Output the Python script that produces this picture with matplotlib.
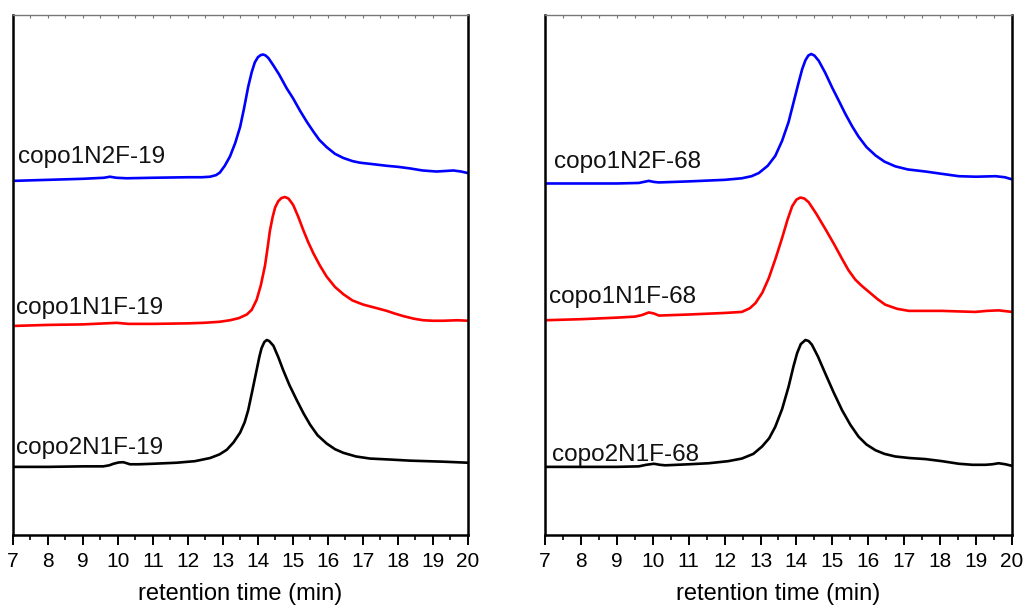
import matplotlib
matplotlib.use("Agg")
import matplotlib.pyplot as plt
from matplotlib.ticker import MultipleLocator

plt.rcParams['font.family'] = ['Liberation Sans', 'DejaVu Sans']

# ---- GPC traces (retention time in min, stacked detector signal in a.u.) ----
t_1N2F_19 = [7.0, 8.0, 9.0, 9.6, 9.77, 9.95, 10.25, 11.0, 12.0, 12.4, 12.63, 12.8, 12.91, 13.05,
             13.2, 13.35, 13.49, 13.6, 13.72, 13.82, 13.91, 14.0, 14.08, 14.15, 14.22, 14.3, 14.44,
             14.6, 14.82, 15.0, 15.2, 15.4, 15.58, 15.75, 15.96, 16.2, 16.44, 16.7, 16.91, 17.3,
             17.68, 18.0, 18.34, 18.7, 19.1, 19.35, 19.58, 19.8, 20.0]
s_1N2F_19 = [68.1, 68.3, 68.5, 68.7, 68.9, 68.7, 68.6, 68.7, 68.8, 68.8, 68.9, 69.2, 69.7, 71.0,
             72.8, 75.4, 78.5, 82.0, 86.2, 89.0, 90.9, 91.9, 92.3, 92.4, 92.2, 91.7, 90.3,
             88.6, 85.9, 84.0, 81.6, 79.4, 77.6, 76.0, 74.6, 73.3, 72.5, 71.9, 71.6, 71.3,
             71.0, 70.8, 70.5, 70.1, 69.9, 70.0, 70.1, 69.9, 69.6]

t_1N1F_19 = [7.0, 8.0, 9.0, 9.96, 10.3, 11.0, 12.0, 12.44, 12.9, 13.2, 13.45, 13.68, 13.82, 13.96,
             14.08, 14.2, 14.28, 14.34, 14.42, 14.49, 14.58, 14.67, 14.77, 14.87, 14.95, 15.01,
             15.15, 15.29, 15.43, 15.58, 15.77, 15.96, 16.2, 16.44, 16.7, 17.01, 17.35, 17.68,
             17.9, 18.15, 18.45, 18.72, 19.0, 19.29, 19.7, 20.0]
s_1N1F_19 = [40.2, 40.4, 40.5, 40.8, 40.6, 40.6, 40.7, 40.8, 41.0, 41.3, 41.7, 42.4, 43.3, 45.2,
             48.0, 51.8, 55.5, 58.5, 61.2, 63.0, 64.2, 64.8, 65.0, 64.7, 64.0, 63.4,
             61.2, 58.7, 56.4, 54.2, 51.8, 49.7, 47.7, 46.3, 45.1, 44.3, 43.7, 43.1,
             42.6, 42.1, 41.6, 41.3, 41.2, 41.2, 41.3, 41.2]

t_2N1F_19 = [7.0, 8.0, 9.0, 9.58, 9.75, 9.87, 10.02, 10.15, 10.25, 10.34, 10.6, 11.0, 11.68,
             12.2, 12.63, 12.9, 13.11, 13.3, 13.49, 13.62, 13.72, 13.84, 13.96, 14.04, 14.1,
             14.18, 14.25, 14.32, 14.44, 14.58, 14.72, 14.9, 15.11, 15.3, 15.49, 15.7, 15.96,
             16.2, 16.44, 16.8, 17.2, 17.8, 18.34, 19.29, 20.0]
s_2N1F_19 = [13.1, 13.1, 13.2, 13.2, 13.4, 13.7, 13.95, 14.0, 13.8, 13.6, 13.6, 13.7, 13.9,
             14.2, 14.8, 15.5, 16.4, 17.8, 19.7, 21.7, 24.0, 27.8, 31.7, 34.3, 35.9,
             37.1, 37.5, 37.3, 36.4, 34.2, 31.7, 28.8, 25.9, 23.4, 21.2, 19.2, 17.6,
             16.5, 15.8, 15.1, 14.7, 14.5, 14.3, 14.1, 13.9]

t_1N2F_68 = [7.0, 8.0, 9.0, 9.61, 9.75, 9.89, 10.03, 10.17, 11.0, 12.0, 12.48, 12.75, 12.95,
             13.2, 13.41, 13.6, 13.78, 13.92, 14.06, 14.16, 14.25, 14.33, 14.41, 14.5, 14.62,
             14.8, 14.99, 15.18, 15.36, 15.55, 15.73, 15.95, 16.2, 16.45, 16.75, 17.1, 17.59,
             18.0, 18.52, 19.0, 19.54, 19.8, 20.0]
s_1N2F_68 = [67.6, 67.6, 67.6, 67.7, 67.9, 68.1, 67.9, 67.8, 68.0, 68.3, 68.6, 69.0, 69.6,
             71.0, 72.9, 75.8, 79.4, 83.2, 87.0, 89.6, 91.3, 92.2, 92.5, 92.2, 91.2,
             88.9, 86.1, 83.5, 81.0, 78.6, 76.6, 74.6, 73.0, 71.8, 70.9, 70.3, 69.9,
             69.5, 69.0, 68.9, 69.0, 68.8, 68.4]

t_1N1F_68 = [7.0, 8.0, 9.0, 9.51, 9.7, 9.89, 10.03, 10.17, 11.0, 12.0, 12.48, 12.7, 12.86,
             13.05, 13.23, 13.42, 13.6, 13.75, 13.88, 14.0, 14.11, 14.22, 14.34, 14.55, 14.8,
             15.05, 15.27, 15.45, 15.64, 15.82, 16.01, 16.25, 16.47, 16.8, 17.13, 17.6, 18.05,
             18.5, 18.98, 19.3, 19.63, 20.0]
s_1N1F_68 = [41.3, 41.5, 41.8, 42.0, 42.3, 42.8, 42.6, 42.2, 42.4, 42.7, 42.9, 43.6, 44.6,
             46.6, 49.4, 53.2, 57.1, 60.6, 63.2, 64.5, 64.9, 64.7, 64.0, 61.8, 58.9,
             55.9, 53.1, 50.9, 49.1, 47.9, 46.8, 45.4, 44.3, 43.5, 43.1, 43.1, 43.1,
             43.0, 42.9, 43.1, 43.2, 42.9]

t_2N1F_68 = [7.0, 8.0, 9.0, 9.61, 9.82, 10.03, 10.2, 10.35, 11.0, 11.56, 12.1, 12.48, 12.8,
             13.04, 13.24, 13.41, 13.6, 13.78, 13.92, 14.02, 14.12, 14.25, 14.34, 14.43, 14.6,
             14.8, 15.03, 15.27, 15.5, 15.73, 15.95, 16.2, 16.45, 16.75, 17.15, 17.59, 18.05,
             18.52, 18.9, 19.26, 19.45, 19.63, 19.82, 20.0]
s_2N1F_68 = [13.1, 13.1, 13.1, 13.2, 13.5, 13.7, 13.5, 13.4, 13.6, 13.8, 14.2, 14.7, 15.6,
             17.0, 18.6, 20.8, 24.2, 28.5, 32.5, 35.0, 36.7, 37.5, 37.3, 36.6, 34.3,
             31.1, 27.5, 24.0, 21.2, 18.9, 17.4, 16.3, 15.6, 15.1, 14.8, 14.6, 14.2,
             13.7, 13.5, 13.5, 13.6, 13.8, 13.6, 13.3]

names_19 = ["copo1N2F-19", "copo1N1F-19", "copo2N1F-19"]
names_68 = ["copo1N2F-68", "copo1N1F-68", "copo2N1F-68"]
colors = ["#0000ff", "#ff0000", "#000000"]

fig = plt.figure(figsize=(10.25, 6.08), dpi=100)
ax1 = fig.add_axes([0.01268, 0.12007, 0.4439, 0.85526])
ax2 = fig.add_axes([0.5317, 0.12007, 0.4556, 0.85526])

panels = [
    (ax1, [(t_1N2F_19, s_1N2F_19), (t_1N1F_19, s_1N1F_19), (t_2N1F_19, s_2N1F_19)], names_19,
     [(7.15, 72.7), (7.1, 43.65), (7.1, 16.7)]),
    (ax2, [(t_1N2F_68, s_1N2F_68), (t_1N1F_68, s_1N1F_68), (t_2N1F_68, s_2N1F_68)], names_68,
     [(7.24, 71.8), (7.12, 45.8), (7.2, 15.3)]),
]

for ax, traces, names, label_pos in panels:
    for (t, s), name, c, (lx, ly) in zip(traces, names, colors, label_pos):
        ax.plot(t, s, color=c, lw=1.9, solid_joinstyle='round', solid_capstyle='round')
        ax.text(lx, ly, name, fontsize=17.5, va='center', ha='left', color='#111111')
    ax.set_xlim(7, 20)
    ax.set_ylim(0, 100)
    ax.xaxis.set_major_locator(MultipleLocator(1))
    ax.xaxis.set_minor_locator(MultipleLocator(0.5))
    ax.tick_params(axis='x', which='major', direction='out', length=7, width=1.4,
                   labelsize=15, pad=5, top=False)
    ax.tick_params(axis='x', which='minor', direction='out', length=3.5, width=1.2, top=False)
    ax.set_yticks([])
    for side in ('left', 'bottom', 'right'):
        ax.spines[side].set_linewidth(1.8)
    ax.spines['top'].set_linewidth(1.0)
    ax.spines['top'].set_color('#777777')
    ax.set_xlabel("retention time (min)", fontsize=17, labelpad=9)

    # short inward ticks along the top frame
    top = ax.secondary_xaxis('top')
    top.xaxis.set_major_locator(MultipleLocator(0.5))
    top.tick_params(direction='in', length=2.5, width=0.8, color='#777777', labeltop=False)
    top.spines['top'].set_visible(False)

fig.savefig("out.png", dpi=100)
